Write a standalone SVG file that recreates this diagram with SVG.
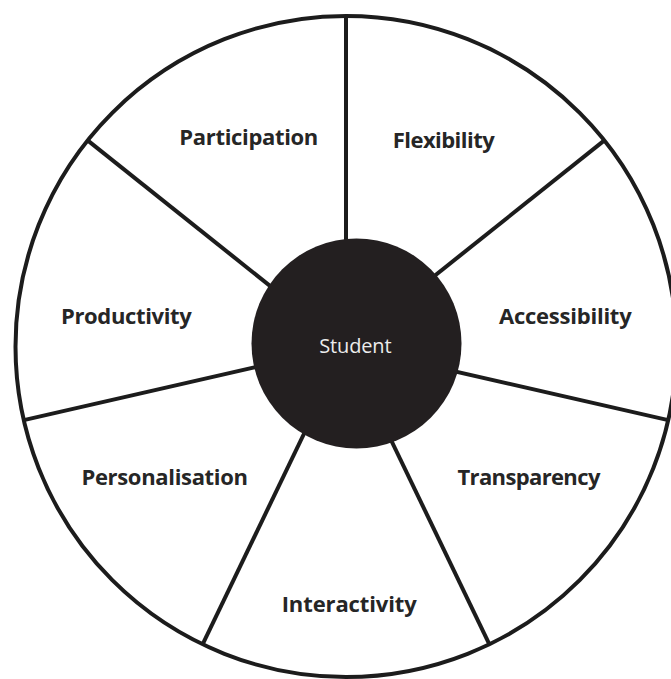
<svg xmlns="http://www.w3.org/2000/svg" width="671" height="679" viewBox="0 0 671 679">
  <style>
    .ring { fill: #ffffff; stroke: #1c1c1c; stroke-width: 4; }
    .spoke { stroke: #1c1c1c; stroke-width: 4; stroke-linecap: butt; fill: none; }
    .hub { fill: #231f20; stroke: none; }
    .label { font-family: "Open Sans", "Lato", "Liberation Sans", sans-serif; font-weight: 700; font-size: 22px; fill: #262626; }
    .hubtext { font-family: "Open Sans", "Lato", "Liberation Sans", sans-serif; font-weight: 400; font-size: 20px; fill: #ececec; }
  </style>
  <rect x="0" y="0" width="671" height="679" fill="#ffffff"/>
  <g id="wheel">
    <circle class="ring" cx="346" cy="346.5" r="330.5"/>
  </g>
  <g id="connectors">
    <line class="spoke" x1="346" y1="16" x2="346" y2="346.5"/>
    <line class="spoke" x1="604.4" y1="140.4" x2="346" y2="346.5"/>
    <line class="spoke" x1="668.2" y1="420.1" x2="346" y2="346.5"/>
    <line class="spoke" x1="489.4" y1="644.3" x2="346" y2="346.5"/>
    <line class="spoke" x1="202.6" y1="644.3" x2="346" y2="346.5"/>
    <line class="spoke" x1="23.8" y1="420.1" x2="346" y2="346.5"/>
    <line class="spoke" x1="87.6" y1="140.4" x2="346" y2="346.5"/>
  </g>
  <g id="student">
    <circle class="hub" cx="356.5" cy="343.5" r="105"/>
    <text class="hubtext" x="319.3" y="353.3" textLength="72.3">Student</text>
  </g>
  <g id="participation">
    <text class="label" x="179.3" y="144.5" textLength="139">Participation</text>
  </g>
  <g id="flexibility">
    <text class="label" x="392.7" y="148.3" textLength="102">Flexibility</text>
  </g>
  <g id="accessibility">
    <text class="label" x="499" y="324.3" textLength="132.7">Accessibility</text>
  </g>
  <g id="transparency">
    <text class="label" x="457.4" y="485.3" textLength="143">Transparency</text>
  </g>
  <g id="interactivity">
    <text class="label" x="281.7" y="611.7" textLength="135">Interactivity</text>
  </g>
  <g id="personalisation">
    <text class="label" x="81.4" y="485.3" textLength="166.6">Personalisation</text>
  </g>
  <g id="productivity">
    <text class="label" x="61" y="324.3" textLength="130.7">Productivity</text>
  </g>
</svg>
